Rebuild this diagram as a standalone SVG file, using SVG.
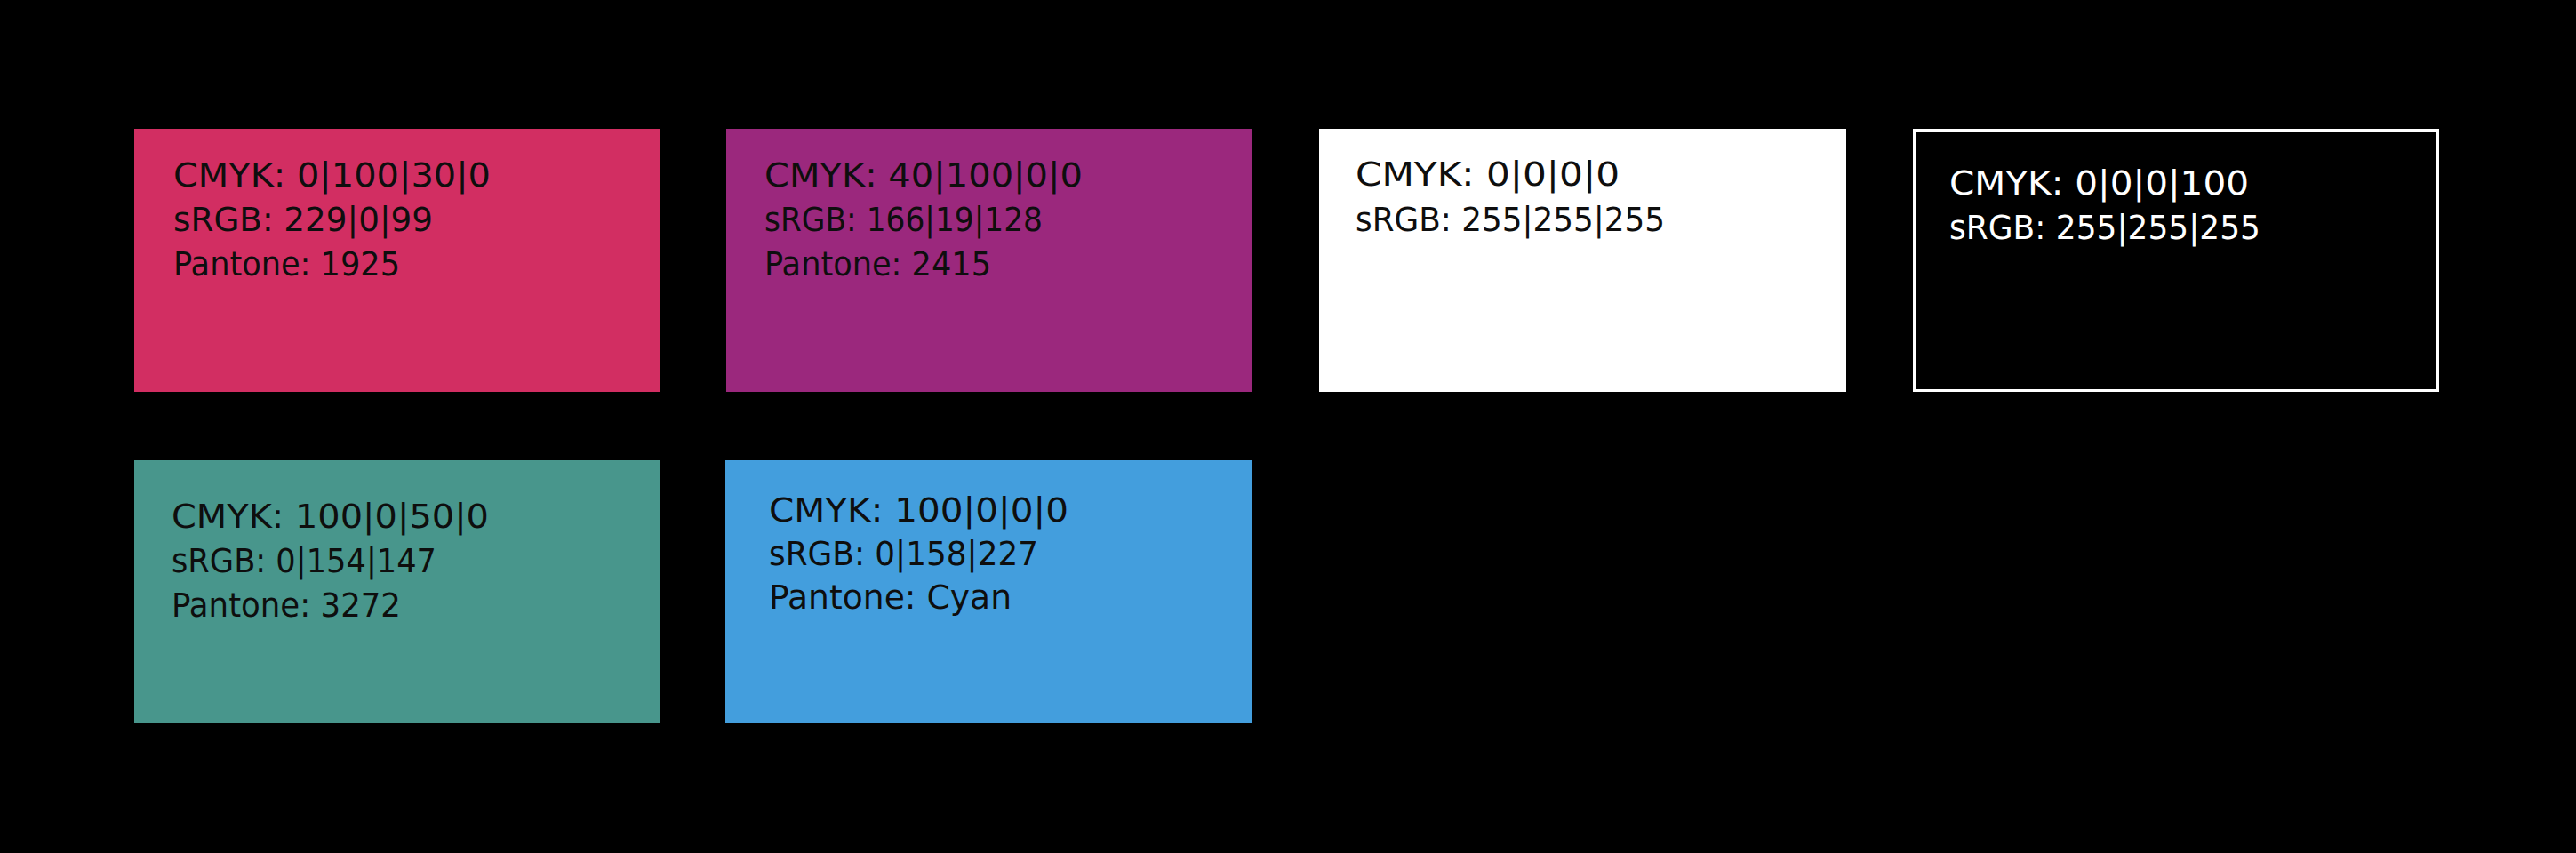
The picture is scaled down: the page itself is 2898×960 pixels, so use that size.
<svg xmlns="http://www.w3.org/2000/svg" width="2898" height="960" viewBox="0 0 2898 960">
  <style>
    .t { font-family: "DejaVu Sans", "Liberation Sans", sans-serif; font-size: 37px; fill: #0e0e0e; }
    .w { fill: #ffffff; }
  </style>
  <rect x="0" y="0" width="2898" height="960" fill="#000000"/>

  <g id="swatch-magenta">
    <rect x="151" y="145" width="592" height="296" fill="#D22E62"/>
    <text class="t" x="195" y="210" textLength="357" lengthAdjust="spacingAndGlyphs">CMYK: 0|100|30|0</text>
    <text class="t" x="195" y="260" textLength="292" lengthAdjust="spacingAndGlyphs">sRGB: 229|0|99</text>
    <text class="t" x="195" y="310" textLength="255" lengthAdjust="spacingAndGlyphs">Pantone: 1925</text>
  </g>

  <g id="swatch-purple">
    <rect x="817" y="145" width="592" height="296" fill="#9B287D"/>
    <text class="t" x="860" y="210" textLength="358" lengthAdjust="spacingAndGlyphs">CMYK: 40|100|0|0</text>
    <text class="t" x="860" y="260" textLength="313" lengthAdjust="spacingAndGlyphs">sRGB: 166|19|128</text>
    <text class="t" x="860" y="310" textLength="255" lengthAdjust="spacingAndGlyphs">Pantone: 2415</text>
  </g>

  <g id="swatch-white">
    <rect x="1484" y="145" width="593" height="296" fill="#FFFFFF"/>
    <text class="t" x="1525" y="209" textLength="297" lengthAdjust="spacingAndGlyphs">CMYK: 0|0|0|0</text>
    <text class="t" x="1525" y="260" textLength="348" lengthAdjust="spacingAndGlyphs">sRGB: 255|255|255</text>
  </g>

  <g id="swatch-black">
    <rect x="2153.5" y="146.5" width="589" height="293" fill="#000000" stroke="#FFFFFF" stroke-width="3"/>
    <text class="t w" x="2193" y="219" textLength="337" lengthAdjust="spacingAndGlyphs">CMYK: 0|0|0|100</text>
    <text class="t w" x="2193" y="269" textLength="350" lengthAdjust="spacingAndGlyphs">sRGB: 255|255|255</text>
  </g>

  <g id="swatch-teal">
    <rect x="151" y="518" width="592" height="296" fill="#48968C"/>
    <text class="t" x="193" y="594" textLength="357" lengthAdjust="spacingAndGlyphs">CMYK: 100|0|50|0</text>
    <text class="t" x="193" y="644" textLength="298" lengthAdjust="spacingAndGlyphs">sRGB: 0|154|147</text>
    <text class="t" x="193" y="694" textLength="258" lengthAdjust="spacingAndGlyphs">Pantone: 3272</text>
  </g>

  <g id="swatch-cyan">
    <rect x="816" y="518" width="593" height="296" fill="#439EDD"/>
    <text class="t" x="865" y="587" textLength="337" lengthAdjust="spacingAndGlyphs">CMYK: 100|0|0|0</text>
    <text class="t" x="865" y="636" textLength="303" lengthAdjust="spacingAndGlyphs">sRGB: 0|158|227</text>
    <text class="t" x="865" y="685" textLength="273" lengthAdjust="spacingAndGlyphs">Pantone: Cyan</text>
  </g>
</svg>
